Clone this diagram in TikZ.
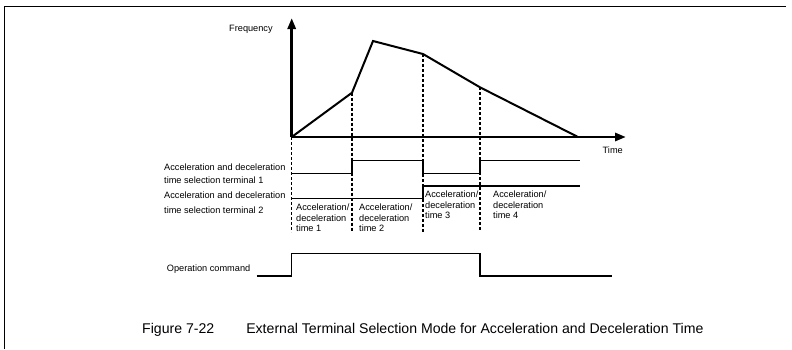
\documentclass[tikz,border=0pt]{standalone}
\usepackage{fontspec}
\setmainfont{Liberation Sans}
\usetikzlibrary{arrows.meta}
\begin{document}
\begin{tikzpicture}[x=1pt,y=-1pt,
  lbl/.style={font=\fontsize{9.2}{11}\selectfont, inner sep=0pt, anchor=base west},
  axisline/.style={line width=2.8pt, -{Triangle[length=11pt,width=8pt]}},
  curve/.style={line width=2pt, line join=miter},
  sig/.style={line width=1.2pt},
  guide/.style={line width=1.2pt, dash pattern=on 3pt off 2pt},
  frameline/.style={line width=1pt}]
\useasboundingbox (0,0) rectangle (792,349);
% frame
\draw[frameline] (4,349) -- (4,6) -- (786,6);
% coordinates
\coordinate (O) at (291.7,137);
\coordinate (P1) at (352,92.7);
\coordinate (P2) at (373,41);
\coordinate (P3) at (423,54);
\coordinate (P4) at (480,87.3);
\coordinate (P5) at (578,137);
\coordinate (Ytip) at (291.7,18);
\coordinate (Xtip) at (626,137);
\coordinate (D0) at (291.7,232);
\coordinate (D1) at (352,232);
\coordinate (D3) at (423,232);
\coordinate (D4) at (480,232);
% guides
\draw[guide] (O) -- (D0);
\draw[guide] (P1) -- (D1);
\draw[guide] (P3) -- (D3);
\draw[guide] (P4) -- (D4);
% axes
\draw[axisline] (O) -- (Ytip);
\draw[axisline] (O) -- (Xtip);
% frequency curve
\draw[curve] (O) -- (P1) -- (P2) -- (P3) -- (P4) -- (P5);
% terminal 1
\draw[sig] (291.7,173.3) -- (352,173.3) -- (352,160.7) -- (423,160.7) -- (423,173.3) -- (480,173.3) -- (480,160.7) -- (580,160.7);
% terminal 2
\draw[sig] (291.7,198.7) -- (423,198.7) -- (423,186) -- (580,186);
% operation command
\draw[sig] (256.7,276) -- (291.7,276) -- (291.7,253.3) -- (480,253.3) -- (480,276) -- (611.7,276);
% labels
\node[lbl] (freq) at (229,31.8) {Frequency};
\node[lbl] (time) at (602.5,153.3) {Time};
\node[lbl] (t1a) at (164,170.7) {Acceleration and deceleration};
\node[lbl] (t1b) at (164,183.3) {time selection terminal 1};
\node[lbl] (t2a) at (164,198.3) {Acceleration and deceleration};
\node[lbl] (t2b) at (164,213.3) {time selection terminal 2};
\node[lbl] (a1a) at (296,210.5) {Acceleration/};
\node[lbl] (a1b) at (296,221) {deceleration};
\node[lbl] (a1c) at (296,231.5) {time 1};
\node[lbl] (a2a) at (359,210.5) {Acceleration/};
\node[lbl] (a2b) at (359,221) {deceleration};
\node[lbl] (a2c) at (359,231.5) {time 2};
\node[lbl] (a3a) at (425,197.5) {Acceleration/};
\node[lbl] (a3b) at (425,208) {deceleration};
\node[lbl] (a3c) at (425,218.5) {time 3};
\node[lbl] (a4a) at (493,197.5) {Acceleration/};
\node[lbl] (a4b) at (493,208) {deceleration};
\node[lbl] (a4c) at (493,218.5) {time 4};
\node[lbl] (op) at (166.7,271.8) {Operation command};
\node[lbl, font=\fontsize{14.1}{16}\selectfont] (cap) at (142,333) {Figure 7-22\hspace{32pt}External Terminal Selection Mode for Acceleration and Deceleration Time};
\end{tikzpicture}
\end{document}
